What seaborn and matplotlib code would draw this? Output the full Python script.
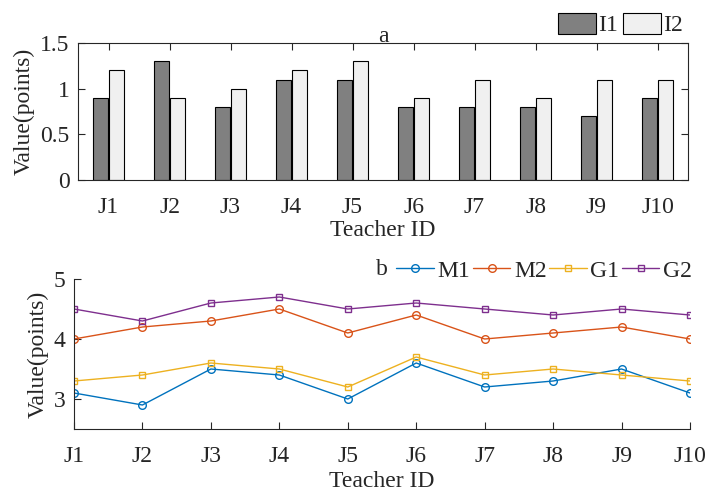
import matplotlib
matplotlib.use("Agg")
import matplotlib.pyplot as plt
import pandas as pd
import seaborn as sns

# data
teachers = ['J1', 'J2', 'J3', 'J4', 'J5', 'J6', 'J7', 'J8', 'J9', 'J10']
i1 = [0.9, 1.3, 0.8, 1.1, 1.1, 0.8, 0.8, 0.8, 0.7, 0.9]
i2 = [1.2, 0.9, 1.0, 1.2, 1.3, 0.9, 1.1, 0.9, 1.1, 1.1]

m1 = [3.1, 2.9, 3.5, 3.4, 3.0, 3.6, 3.2, 3.3, 3.5, 3.1]
m2 = [4.0, 4.2, 4.3, 4.5, 4.1, 4.4, 4.0, 4.1, 4.2, 4.0]
g1 = [3.3, 3.4, 3.6, 3.5, 3.2, 3.7, 3.4, 3.5, 3.4, 3.3]
g2 = [4.5, 4.3, 4.6, 4.7, 4.5, 4.6, 4.5, 4.4, 4.5, 4.4]

sns.set_style("white")
plt.rcParams['font.family'] = ['Liberation Serif', 'DejaVu Serif']
FS = 17

bars = pd.DataFrame({
    'Teacher': teachers * 2,
    'Value': i1 + i2,
    'Item': ['I1'] * 10 + ['I2'] * 10,
})

lines = pd.DataFrame({
    'x': list(range(10)) * 4,
    'Value': m1 + m2 + g1 + g2,
    'Series': ['M1'] * 10 + ['M2'] * 10 + ['G1'] * 10 + ['G2'] * 10,
})

W, H = 707, 492
fig = plt.figure(figsize=(W / 100, H / 100), dpi=100)
ax1 = fig.add_axes([78 / W, 1 - 180 / H, (688 - 78) / W, (180 - 43) / H])
ax2 = fig.add_axes([74 / W, 1 - 429 / H, (690 - 74) / W, (429 - 279) / H])
axis_col = '#262626'

# --- panel a: bars
sns.barplot(data=bars, x='Teacher', y='Value', hue='Item', ax=ax1,
            palette=['#808080', '#F0F0F0'], width=0.54, gap=0.08,
            edgecolor='black', linewidth=0.8, saturation=1)
ax1.set_xlim(-0.5, 9.5)
ax1.set_ylim(0, 1.5)
ax1.set_yticks([0, 0.5, 1, 1.5])
ax1.set_yticklabels(['0', '0.5', '1', '1.5'])
ax1.set_title('a', fontsize=FS, pad=1)
ax1.set_xlabel('Teacher ID', fontsize=FS, labelpad=2)
ax1.set_ylabel('Value(points)', fontsize=FS, labelpad=4)
ax1.tick_params(axis='both', direction='in', length=5, labelsize=FS,
                top=True, right=True, bottom=True, left=True, color=axis_col)
ax1.tick_params(axis='x', pad=12)
ax1.tick_params(axis='y', pad=6)
for s in ax1.spines.values():
    s.set_color(axis_col)
    s.set_linewidth(0.8)
ax1.legend(loc='upper right', bbox_to_anchor=(697 / W, 1 + 1 / H),
           bbox_transform=fig.transFigure, ncol=2, frameon=False,
           fontsize=FS, handlelength=1.6, handleheight=0.95,
           handletextpad=0.1, columnspacing=0.2, borderpad=0.1)

# --- panel b: lines
colors = ['#0072BD', '#D95319', '#EDB120', '#7E2F8E']
sns.lineplot(data=lines, x='x', y='Value', hue='Series', style='Series',
             palette=colors, markers=['o', 'o', 's', 's'], dashes=False,
             ax=ax2, linewidth=1.0, markersize=5.5, markeredgewidth=1.0)
for ln in ax2.lines:
    ln.set_markerfacecolor('none')
    ln.set_markeredgecolor(ln.get_color())
    if ln.get_marker() == 's':
        ln.set_markersize(4.5)
ax2.set_xlim(0, 9)
ax2.set_ylim(2.5, 5)
ax2.set_xticks(range(10))
ax2.set_xticklabels(teachers)
ax2.set_yticks([3, 4, 5])
ax2.set_title('b', fontsize=FS, pad=3)
ax2.set_xlabel('Teacher ID', fontsize=FS, labelpad=3)
ax2.set_ylabel('Value(points)', fontsize=FS, labelpad=4)
ax2.tick_params(axis='both', direction='in', length=5, labelsize=FS,
                color=axis_col, bottom=True, left=True)
ax2.tick_params(axis='x', pad=12)
ax2.tick_params(axis='y', pad=6)
ax2.spines['top'].set_visible(False)
ax2.spines['right'].set_visible(False)
for s in ['left', 'bottom']:
    ax2.spines[s].set_color(axis_col)
    ax2.spines[s].set_linewidth(0.8)
leg = ax2.legend(loc='upper right', bbox_to_anchor=(706 / W, 1 - 246 / H),
                 bbox_transform=fig.transFigure, ncol=4, frameon=False,
                 fontsize=FS, handlelength=1.6, handletextpad=0.15,
                 columnspacing=0.1, borderpad=0.1)
for ln in leg.get_lines():
    ln.set_markerfacecolor('none')

fig.savefig('out.png', dpi=100)
